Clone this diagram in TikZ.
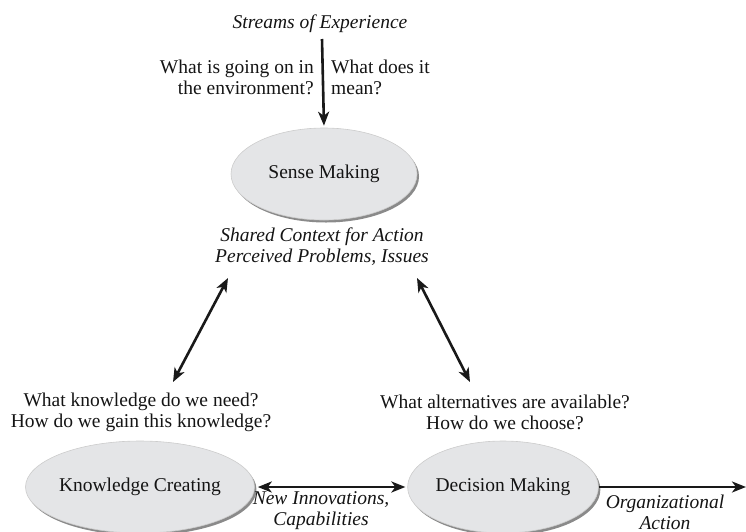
\documentclass[tikz,border=0pt]{standalone}
\usepackage{fontspec}
\setmainfont{Liberation Serif}
\usetikzlibrary{arrows.meta,shapes.geometric}
\definecolor{ellfill}{HTML}{E4E5E7}
\definecolor{ellshadow}{HTML}{8A8A8A}
\definecolor{txt}{HTML}{141414}
\tikzset{
  x=1pt, y=-1pt,
  every node/.style={font=\fontsize{19.5}{21}\selectfont, text=txt, inner sep=0pt},
  lab/.style={align=center, font=\fontsize{19.5}{21}\selectfont\itshape},
  ques/.style={align=center},
  proc/.style={ellipse, minimum width=186pt, minimum height=92pt, fill=ellfill, draw=gray!40, line width=0.6pt,
     preaction={fill=ellshadow, transform canvas={shift={(2pt,-2.5pt)}}}},
  tip/.tip={Stealth[length=14pt,width=11pt,inset=4pt]},
  conn/.style={line width=2.6pt, draw=black!90, -tip},
  dconn/.style={line width=2.6pt, draw=black!90, tip-tip}
}
\begin{document}
\begin{tikzpicture}
\useasboundingbox (0,0) rectangle (746,531);
% process nodes
\node[proc] (sense) at (324,174) {Sense Making};
\node[proc] (know) at (140,487) {Knowledge Creating};
\node[proc] (dec) at (503,487) {Decision Making};
% labels
\node[lab] (streams) at (320,24) {Streams of Experience};
\node[align=right, anchor=east] (qenv) at (314,77) {What is going on in\\the environment?};
\node[align=left, anchor=west] (qmean) at (331,77) {What does it\\mean?};
\node[lab] (ctx) at (322,247) {Shared Context for Action\\Perceived Problems, Issues};
\node[ques] (qk) at (141,412) {What knowledge do we need?\\How do we gain this knowledge?};
\node[ques] (qd) at (505,412) {What alternatives are available?\\How do we choose?};
\node[lab] (innov) at (321,511) {New Innovations,\\Capabilities};
\node[lab] (orgact) at (665,512) {Organizational\\Action};
% connector end points
\coordinate (sTop) at (322,39);
\coordinate (lTop) at (228,278);
\coordinate (lBot) at (173,382);
\coordinate (rTop) at (417,278);
\coordinate (rBot) at (470,382);
\coordinate (out) at (746,487);
% connectors
\draw[conn, shorten >=2pt] (sTop) -- (sense.north);
\draw[dconn] (lBot) -- (lTop);
\draw[dconn] (rBot) -- (rTop);
\draw[dconn, shorten <=3pt, shorten >=2pt] (know.east) -- (dec.west);
\draw[conn] (dec.east) -- (out);
\end{tikzpicture}
\end{document}
